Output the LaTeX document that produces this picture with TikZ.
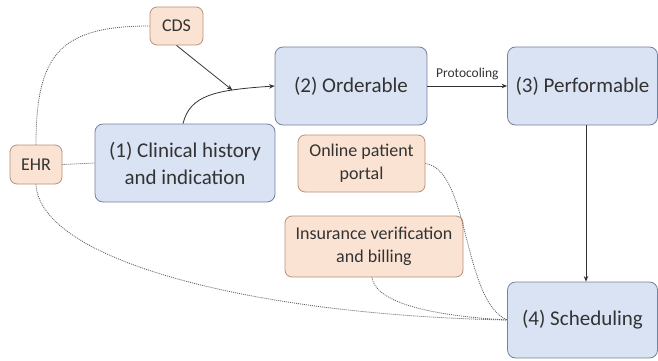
\documentclass[tikz,border=0pt]{standalone}
\usepackage{fontspec}
\setmainfont{Carlito}
\usetikzlibrary{arrows.meta}
\definecolor{bluefill}{HTML}{DAE3F3}
\definecolor{blueline}{HTML}{73829E}
\definecolor{orangefill}{HTML}{FBE3D4}
\definecolor{orangeline}{HTML}{B8907B}
\definecolor{ink}{HTML}{333333}
\definecolor{dotline}{HTML}{606060}

\begin{document}
\begin{tikzpicture}[x=1pt,y=-1pt,
  stage/.style={draw=blueline, fill=bluefill, rounded corners=8pt, line width=0.8pt,
    text=ink, font=\fontsize{21}{27}\selectfont, align=center, inner sep=0pt},
  system/.style={draw=orangeline, fill=orangefill, rounded corners=7pt, line width=0.8pt,
    text=ink, font=\fontsize{18}{23}\selectfont, align=center, inner sep=0pt},
  flow/.style={draw=ink, line width=0.8pt, -{Stealth[length=5.5pt,width=4.5pt]}},
  link/.style={draw=dotline, line width=0.8pt, dash pattern=on 1pt off 1pt}]

\useasboundingbox (0,0) rectangle (658,361);

% workflow stages
\node[stage, minimum width=152pt, minimum height=78pt] (order) at (351,86) {(2) Orderable};
\node[stage, minimum width=150pt, minimum height=78pt] (perf)  at (582.5,86) {(3) Performable};
\node[stage, minimum width=180pt, minimum height=78pt] (clin)  at (185,163) {(1) Clinical history\\and indication};
\node[stage, minimum width=150pt, minimum height=76pt] (sched) at (582.5,320) {(4) Scheduling};

% supporting systems
\node[system, minimum width=53pt, minimum height=38pt]  (cds)    at (176.5,26) {CDS};
\node[system, minimum width=52pt, minimum height=39pt]  (ehr)    at (36,164.5) {EHR};
\node[system, minimum width=127pt, minimum height=57pt] (portal) at (361.5,163.5) {Online patient\\portal};
\node[system, minimum width=178pt, minimum height=61pt] (ins)    at (374,246.5) {Insurance verification\\and billing};

% main flow
\draw[flow] ([xshift=-2pt]clin.north) .. controls (190,95) and (215,90) .. (order.west)
  coordinate[pos=0.72] (merge);
\draw[flow] (cds.south) -- (merge);
\draw[flow] (order.east) -- node[above=2pt, font=\fontsize{13.5}{16}\selectfont, text=ink] {Protocoling} (perf.west);
\draw[flow] ([xshift=3.5pt]perf.south) -- ([xshift=3.5pt]perf.south |- sched.north);

% system links
\draw[link] (ehr.north) to[out=90, in=180, looseness=1.4] (cds.west);
\draw[link] (ehr.east) -- (clin.west);
\draw[link] (ehr.south) .. controls (40,260) and (250,315) .. (sched.west);
\draw[link] (portal.east) .. controls (470,170) and (462,300) .. (sched.west);
\draw[link] ([xshift=-2pt]ins.south) .. controls (375,300) and (420,315) .. (sched.west);
\end{tikzpicture}
\end{document}
